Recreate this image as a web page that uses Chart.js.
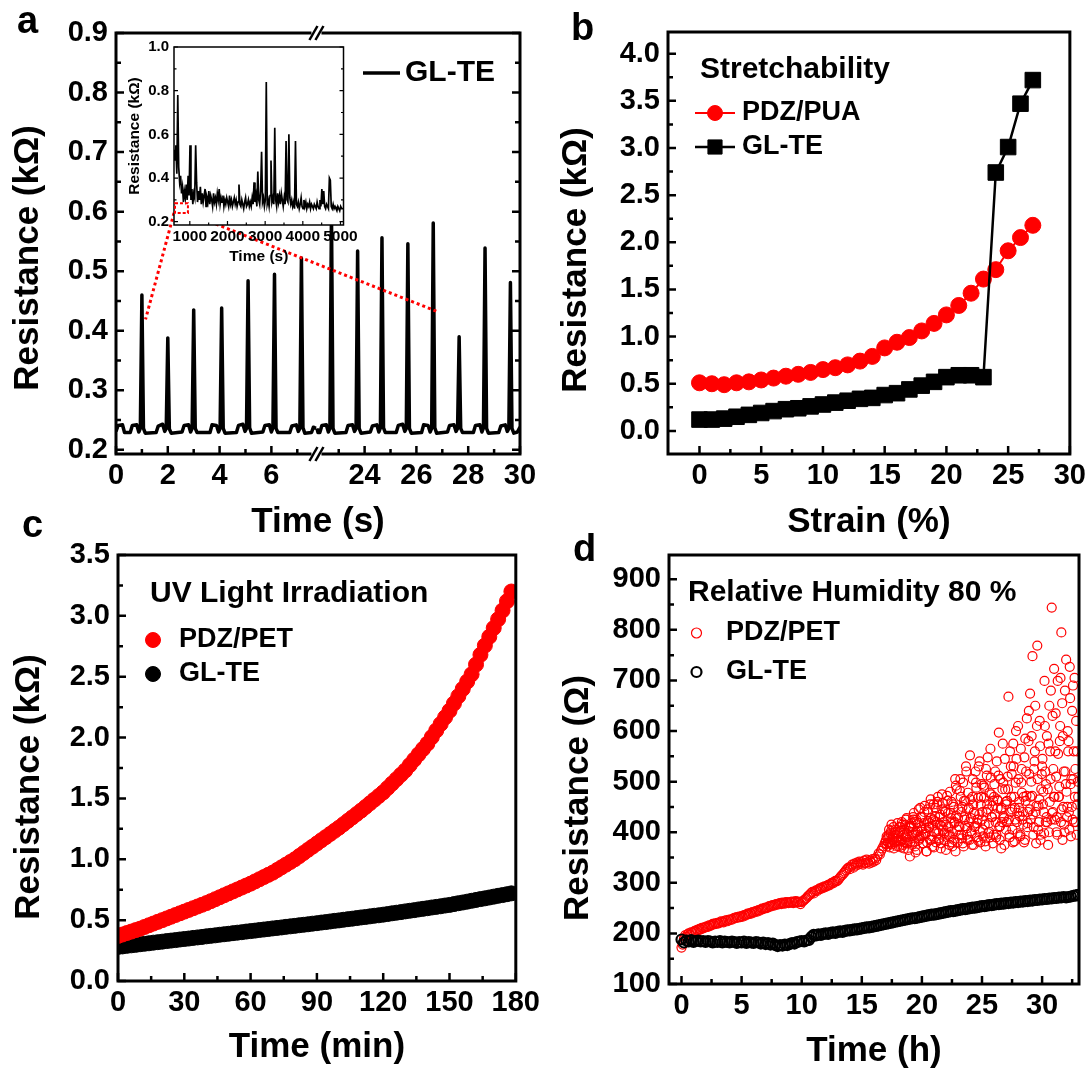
<!DOCTYPE html>
<html>
<head>
<meta charset="utf-8">
<script src="https://cdn.jsdelivr.net/npm/chart.js@4.4.1/dist/chart.umd.min.js"></script>
<style>
html, body { margin: 0; padding: 0; background: #fff; }
#fig { position: relative; width: 1091px; height: 1075px; overflow: hidden; background: #fff; }
canvas { position: absolute; }
</style>
</head>
<body>
<div id="fig">
  <canvas id="ca" width="545" height="550" style="left:0;top:0;z-index:1"></canvas>
  <canvas id="cinset" width="255" height="237" style="z-index:2"></canvas>
  <canvas id="cb" width="546" height="550" style="left:545px;top:0;z-index:1"></canvas>
  <canvas id="cc" width="545" height="575" style="left:0;top:500px;z-index:1"></canvas>
  <canvas id="cd" width="546" height="575" style="left:545px;top:500px;z-index:1"></canvas>
</div>
<script>
// ---- panel a: GL-TE resistance while cycling, x axis broken between ~7.7 s and ~22.1 s
var cycleTimeS = [
  0.00, 0.08, 0.25, 0.33,
  0.55, 0.63, 0.80, 0.88, 0.94, 1.00, 1.06, 1.13,
  1.55, 1.63, 1.80, 1.88, 1.94, 2.00, 2.06, 2.13,
  2.55, 2.63, 2.80, 2.88, 2.94, 3.00, 3.06, 3.13,
  3.63, 3.71, 3.88, 3.96, 4.02, 4.08, 4.14, 4.21,
  4.65, 4.73, 4.90, 4.98, 5.04, 5.10, 5.16, 5.23,
  5.67, 5.75, 5.92, 6.00, 6.06, 6.12, 6.18, 6.25,
  6.71, 6.79, 6.96, 7.04, 7.10, 7.16, 7.22, 7.29,
  7.55, 7.62, 7.72,
  22.16, 22.20,
  22.27, 22.35, 22.52, 22.60, 22.66, 22.72, 22.78, 22.85,
  23.28, 23.36, 23.53, 23.61, 23.67, 23.73, 23.79, 23.86,
  24.22, 24.30, 24.47, 24.55, 24.61, 24.67, 24.73, 24.80,
  25.22, 25.30, 25.47, 25.55, 25.61, 25.67, 25.73, 25.80,
  26.20, 26.28, 26.45, 26.53, 26.59, 26.65, 26.71, 26.78,
  27.20, 27.28, 27.45, 27.53, 27.59, 27.65, 27.71, 27.78,
  28.20, 28.28, 28.45, 28.53, 28.59, 28.65, 28.71, 28.78,
  29.18, 29.26, 29.43, 29.51, 29.57, 29.63, 29.69, 29.76,
  29.90, 30.00
]
var cycleResK = [
  0.231, 0.241, 0.242, 0.229,
  0.229, 0.241, 0.242, 0.230, 0.236, 0.460, 0.236, 0.228,
  0.229, 0.240, 0.243, 0.231, 0.236, 0.388, 0.235, 0.228,
  0.230, 0.241, 0.242, 0.230, 0.236, 0.435, 0.236, 0.229,
  0.229, 0.242, 0.241, 0.230, 0.236, 0.438, 0.236, 0.228,
  0.229, 0.241, 0.243, 0.231, 0.236, 0.484, 0.237, 0.228,
  0.230, 0.241, 0.242, 0.230, 0.237, 0.495, 0.236, 0.229,
  0.229, 0.240, 0.242, 0.231, 0.236, 0.522, 0.237, 0.228,
  0.229, 0.238, 0.236,
  0.236, 0.229,
  0.229, 0.241, 0.242, 0.230, 0.236, 0.600, 0.236, 0.228,
  0.229, 0.241, 0.242, 0.231, 0.236, 0.534, 0.236, 0.228,
  0.230, 0.240, 0.242, 0.230, 0.237, 0.556, 0.237, 0.229,
  0.229, 0.241, 0.243, 0.231, 0.236, 0.546, 0.236, 0.228,
  0.229, 0.242, 0.241, 0.230, 0.236, 0.581, 0.237, 0.228,
  0.230, 0.241, 0.242, 0.231, 0.236, 0.390, 0.236, 0.229,
  0.229, 0.241, 0.242, 0.230, 0.237, 0.539, 0.236, 0.228,
  0.229, 0.240, 0.242, 0.231, 0.236, 0.481, 0.236, 0.228,
  0.230, 0.238
]
var cycleTicksS = [0, 2, 4, 6, 24, 26, 28, 30]
var cycleMinorS = [1, 3, 5, 7, 23, 25, 27, 29]
var cycleTicksK = [0.2, 0.3, 0.4, 0.5, 0.6, 0.7, 0.8, 0.9]
var cycleMinorK = [0.25, 0.35, 0.45, 0.55, 0.65, 0.75, 0.85]
var BREAK_SHIFT = 14.4   // seconds removed by the axis break
var BREAK_AT = 7.74      // axis value where the break marks sit

// inset of panel a: long run, sampled every 25 s from 580 s
var insetStartS = 580
var insetStepS = 25
var insetResK = [
  0.53, 0.48, 0.55, 0.42, 0.78, 0.45, 0.38, 0.41, 0.33, 0.36,
  0.29, 0.34, 0.31, 0.37, 0.30, 0.41, 0.32, 0.55, 0.30, 0.35,
  0.28, 0.33, 0.31, 0.55, 0.38, 0.29, 0.34, 0.30, 0.36, 0.28,
  0.33, 0.29, 0.32, 0.35, 0.27, 0.31, 0.29, 0.34, 0.28, 0.32,
  0.30, 0.27, 0.33, 0.29, 0.31, 0.28, 0.33, 0.30, 0.35, 0.28,
  0.31, 0.29, 0.32, 0.27, 0.30, 0.28, 0.31, 0.29, 0.27, 0.32,
  0.28, 0.30, 0.27, 0.29, 0.31, 0.28, 0.30, 0.27, 0.29, 0.37,
  0.28, 0.27, 0.30, 0.28, 0.26, 0.29, 0.31, 0.27, 0.28, 0.30,
  0.27, 0.29, 0.27, 0.31, 0.28, 0.38, 0.29, 0.32, 0.27, 0.43,
  0.30, 0.28, 0.34, 0.52, 0.29, 0.31, 0.27, 0.30, 0.84, 0.28,
  0.30, 0.27, 0.32, 0.48, 0.29, 0.31, 0.28, 0.63, 0.30, 0.27,
  0.33, 0.29, 0.32, 0.28, 0.33, 0.30, 0.27, 0.31, 0.28, 0.57,
  0.30, 0.29, 0.60, 0.31, 0.28, 0.30, 0.27, 0.29, 0.26, 0.57,
  0.28, 0.27, 0.29, 0.26, 0.28, 0.31, 0.27, 0.26, 0.30, 0.27,
  0.29, 0.26, 0.28, 0.27, 0.29, 0.26, 0.28, 0.27, 0.26, 0.28,
  0.27, 0.26, 0.29, 0.27, 0.26, 0.30, 0.27, 0.35, 0.28, 0.34,
  0.27, 0.26, 0.28, 0.27, 0.26, 0.40, 0.39, 0.27, 0.26, 0.28,
  0.26, 0.27, 0.26, 0.25, 0.27, 0.26, 0.25, 0.27, 0.26, 0.26, 0.26
]
var insetTicksS = [1000, 2000, 3000, 4000, 5000]
var insetMinorS = [1500, 2500, 3500, 4500]
var insetTicksK = [0.2, 0.4, 0.6, 0.8, 1.0]
var insetMinorK = [0.3, 0.5, 0.7, 0.9]
var zoomBoxS = [580, 950]        // red box in the inset (time)
var zoomBoxK = [0.24, 0.285]     // red box in the inset (resistance)
var zoomToS = [1.14, 26.82]      // where the dotted lines land in panel a
var zoomToK = [0.419, 0.432]

// ---- panel b: stretchability
var strainPct = [0, 1, 2, 3, 4, 5, 6, 7, 8, 9, 10, 11, 12, 13, 14, 15, 16, 17, 18, 19, 20, 21, 22, 23, 24, 25, 26, 27]
var puaResK = [0.51, 0.50, 0.49, 0.51, 0.52, 0.54, 0.56, 0.58, 0.60, 0.62, 0.65, 0.67, 0.70, 0.74,
               0.79, 0.88, 0.94, 0.99, 1.06, 1.14, 1.23, 1.33, 1.46, 1.61, 1.71, 1.91, 2.05, 2.18]
var glteStrainK = [0.12, 0.12, 0.13, 0.15, 0.17, 0.19, 0.21, 0.23, 0.24, 0.26, 0.28, 0.30, 0.32, 0.34,
                   0.35, 0.38, 0.40, 0.44, 0.48, 0.52, 0.57, 0.59, 0.59, 0.57, 2.74, 3.01, 3.47, 3.72]
var strainTicks = [0, 5, 10, 15, 20, 25, 30]
var strainMinor = [2.5, 7.5, 12.5, 17.5, 22.5, 27.5]
var strainTicksK = [0, 0.5, 1.0, 1.5, 2.0, 2.5, 3.0, 3.5, 4.0]
var strainMinorK = [0.25, 0.75, 1.25, 1.75, 2.25, 2.75, 3.25, 3.75]

// ---- panel c: UV light, one reading every 2 min
var uvStepMin = 2
var uvPetK = [
  0.370, 0.382, 0.394, 0.406, 0.418, 0.430, 0.444, 0.458, 0.472, 0.486,
  0.500, 0.514, 0.528, 0.542, 0.556, 0.570, 0.584, 0.598, 0.612, 0.626,
  0.640, 0.656, 0.672, 0.688, 0.704, 0.720, 0.736, 0.752, 0.768, 0.784,
  0.800, 0.818, 0.836, 0.854, 0.872, 0.890, 0.912, 0.934, 0.956, 0.978,
  1.000, 1.026, 1.052, 1.078, 1.104, 1.130, 1.156, 1.182, 1.208, 1.234,
  1.260, 1.288, 1.316, 1.344, 1.372, 1.400, 1.430, 1.460, 1.490, 1.520,
  1.550, 1.586, 1.622, 1.658, 1.694, 1.730, 1.774, 1.818, 1.862, 1.906,
  1.950, 2.004, 2.058, 2.112, 2.166, 2.220, 2.280, 2.340, 2.400, 2.460,
  2.520, 2.600, 2.680, 2.756, 2.828, 2.900, 2.972, 3.044, 3.120, 3.200
]
var uvGlteK = [
  0.280, 0.284, 0.289, 0.293, 0.297, 0.302, 0.306, 0.310, 0.315, 0.319,
  0.323, 0.328, 0.332, 0.336, 0.341, 0.345, 0.349, 0.354, 0.358, 0.362,
  0.367, 0.371, 0.375, 0.380, 0.384, 0.388, 0.393, 0.397, 0.401, 0.406,
  0.410, 0.414, 0.419, 0.423, 0.427, 0.432, 0.436, 0.440, 0.445, 0.449,
  0.453, 0.458, 0.462, 0.466, 0.471, 0.475, 0.480, 0.484, 0.489, 0.494,
  0.498, 0.503, 0.508, 0.512, 0.517, 0.522, 0.526, 0.531, 0.536, 0.540,
  0.545, 0.550, 0.556, 0.561, 0.566, 0.572, 0.577, 0.582, 0.588, 0.593,
  0.598, 0.604, 0.609, 0.614, 0.620, 0.625, 0.632, 0.639, 0.645, 0.652,
  0.659, 0.666, 0.673, 0.679, 0.686, 0.693, 0.700, 0.706, 0.713, 0.720
]
var uvTicksMin = [0, 30, 60, 90, 120, 150, 180]
var uvMinorMin = [15, 45, 75, 105, 135, 165]
var uvTicksK = [0, 0.5, 1.0, 1.5, 2.0, 2.5, 3.0, 3.5]
var uvMinorK = [0.25, 0.75, 1.25, 1.75, 2.25, 2.75, 3.25]

// ---- panel d: relative humidity 80 %
var rhPetStepH = 0.1
var rhPetOhm = [
  172, 178, 190, 196, 193, 198, 200, 197, 202, 201,
  203, 205, 204, 207, 206, 209, 208, 211, 210, 212,
  212, 214, 213, 216, 215, 217, 219, 218, 220, 219,
  221, 220, 222, 224, 223, 222, 225, 226, 224, 227,
  226, 228, 227, 229, 231, 230, 232, 231, 233, 232,
  234, 233, 236, 235, 237, 239, 238, 240, 239, 242,
  241, 243, 244, 243, 246, 245, 247, 249, 248, 250,
  251, 250, 252, 254, 253, 255, 256, 255, 257, 258,
  257, 259, 260, 258, 261, 260, 259, 262, 261, 260,
  262, 261, 263, 260, 262, 264, 261, 263, 262, 258,
  262, 264, 266, 268, 270, 273, 275, 277, 280, 282,
  279, 283, 285, 284, 287, 289, 288, 291, 290, 293,
  292, 294, 296, 295, 298, 300, 299, 302, 304, 303,
  305, 308, 311, 314, 316, 319, 322, 325, 328, 330,
  327, 332, 336, 330, 338, 334, 340, 336, 342, 338,
  341, 336, 344, 339, 346, 341, 338, 344, 340, 347,
  342, 348, 345, 352, 358, 356, 363, 368, 372, 378,
  384, 372, 392, 380, 398, 376, 395, 388, 405, 383,
  392, 372, 410, 385, 399, 368, 415, 390, 378, 402,
  352, 410, 395, 425, 381, 400, 365, 418, 392, 430,
  405, 378, 440, 396, 362, 422, 409, 455, 385, 413,
  370, 432, 401, 460, 388, 415, 378, 445, 420, 398,
  365, 472, 410, 392, 438, 380, 455, 418, 362, 485,
  428, 395, 505, 440, 378, 462, 412, 520, 385, 448,
  552, 402, 470, 375, 436, 498, 418, 383, 540, 455,
  425, 392, 488, 372, 512, 445, 401, 565, 430, 378,
  470, 520, 395, 448, 597, 412, 368, 485, 432, 545,
  405, 462, 668, 390, 530, 445, 575, 382, 498, 420,
  610, 460, 395, 525, 440, 380, 585, 472, 418, 640,
  674, 500, 748, 410, 560, 378, 769, 452, 620, 395,
  530, 480, 699, 420, 590, 375, 650, 505, 844, 440,
  723, 560, 400, 699, 470, 610, 795, 385, 520, 680,
  741, 450, 580, 727, 392, 640, 505, 705, 420, 560,
  470
]
// extra PDZ/PET readings in the scattered part, 0.1 h apart from 17.03 h and 17.07 h
var rhPetCloudStartA = 17.03
var rhPetCloudA = [
  376, 388, 395, 370, 402, 385, 410, 380, 395, 372,
  398, 410, 382, 420, 375, 405, 392, 428, 385, 412,
  380, 418, 400, 438, 372, 425, 395, 445, 388, 410,
  430, 395, 452, 408, 380, 440, 418, 465, 392, 425,
  400, 448, 420, 470, 385, 435, 412, 458, 398, 442,
  415, 462, 395, 480, 428, 372, 450, 420, 492, 405,
  445, 410, 470, 388, 498, 430, 462, 395, 478, 420,
  465, 398, 505, 440, 412, 488, 425, 530, 402, 470,
  440, 492, 415, 525, 455, 398, 478, 508, 430, 462,
  495, 420, 540, 462, 410, 505, 448, 575, 428, 485,
  455, 510, 425, 560, 470, 405, 530, 448, 600, 438,
  505, 432, 565, 478, 415, 548, 462, 625, 440, 515,
  470, 590, 435, 525, 650, 452, 505, 420, 570, 485,
  545, 440, 610, 495, 420, 575, 460, 680, 438, 525,
  470, 635, 430, 555, 490, 705, 445, 590, 415, 520,
  480, 600, 440, 665, 505, 425, 560, 470, 620, 455
]
var rhPetCloudStartB = 17.07
var rhPetCloudB = [
  392, 380, 405, 378, 415, 390, 368, 400, 382, 418,
  385, 402, 370, 415, 395, 380, 425, 398, 365, 408,
  412, 375, 430, 395, 360, 420, 402, 385, 448, 392,
  378, 418, 398, 362, 445, 410, 385, 428, 372, 455,
  422, 380, 455, 398, 430, 368, 475, 405, 385, 440,
  395, 438, 375, 418, 460, 398, 385, 505, 432, 380,
  412, 482, 395, 450, 372, 425, 530, 408, 445, 385,
  428, 375, 455, 410, 520, 390, 468, 435, 380, 495,
  405, 468, 382, 440, 548, 418, 390, 475, 452, 395,
  435, 390, 465, 512, 385, 445, 420, 498, 375, 460,
  420, 485, 395, 440, 515, 380, 470, 425, 545, 398,
  448, 392, 498, 425, 470, 385, 520, 410, 580, 445,
  425, 472, 395, 540, 440, 610, 405, 465, 385, 515,
  455, 398, 520, 430, 485, 400, 560, 425, 630, 470,
  425, 510, 395, 470, 580, 420, 655, 450, 400, 495,
  430, 560, 405, 495, 450, 690, 420, 525, 395, 500
]
var rhGlteStepH = 0.2
var rhGlteOhm = [
  188, 182, 186, 184, 187, 183, 185, 186, 184, 185,
  183, 185, 184, 182, 184, 183, 185, 182, 184, 183,
  182, 184, 183, 181, 183, 182, 184, 181, 183, 182,
  181, 183, 182, 180, 182, 179, 181, 178, 180, 177,
  175, 177, 176, 178, 177, 179, 181, 180, 183, 184,
  185, 184, 186, 187, 193, 197, 196, 198, 197, 199,
  200, 199, 201, 202, 201, 203, 204, 203, 205, 206,
  206, 207, 208, 208, 209, 210, 211, 212, 212, 213,
  214, 215, 216, 217, 218, 219, 220, 221, 222, 223,
  224, 225, 226, 227, 228, 229, 230, 230, 231, 232,
  233, 234, 235, 236, 237, 237, 238, 239, 240, 241,
  242, 243, 244, 244, 245, 246, 247, 248, 248, 249,
  250, 251, 251, 252, 253, 254, 254, 255, 256, 256,
  257, 258, 258, 259, 259, 260, 260, 261, 261, 262,
  262, 263, 263, 264, 264, 265, 265, 266, 266, 267,
  267, 268, 268, 269, 269, 270, 270, 271, 271, 272,
  271, 272, 273, 274, 275, 276
]
var rhTicksH = [0, 5, 10, 15, 20, 25, 30]
var rhMinorH = [2.5, 7.5, 12.5, 17.5, 22.5, 27.5, 32.5]
var rhTicksOhm = [100, 200, 300, 400, 500, 600, 700, 800, 900]
var rhMinorOhm = [150, 250, 350, 450, 550, 650, 750, 850]

// ------------------------------------------------------------------
var FONT = "'Liberation Sans', Arial, Helvetica, sans-serif"
var RED = '#ff0000'
var INSET_LEFT = 105, INSET_TOP = 33

Chart.defaults.font.family = FONT
Chart.defaults.font.weight = 'bold'
Chart.defaults.color = '#000'

function toAxisA(t) { return t > 15 ? t - BREAK_SHIFT : t }

function linAxis(c) {
  return {
    type: 'linear', position: c.pos, min: c.min, max: c.max,
    grid: { display: false, drawTicks: false },
    border: { display: false },
    ticks: {
      autoSkip: false, maxRotation: 0, minRotation: 0, padding: c.pad,
      font: { size: c.fs, weight: 'bold' }, color: '#000',
      callback: c.fmt
    },
    title: c.title ? {
      display: true, text: c.title, color: '#000',
      font: { size: c.tfs, weight: 'bold' }, padding: c.tpad
    } : { display: false },
    afterBuildTicks: function(s) { s.ticks = c.ticks.map(function(v) { return { value: v } }) },
    afterFit: function(s) { if (s.isHorizontal()) s.height = c.size; else s.width = c.size }
  }
}

// box frame with inward ticks (major from the scale, minor from lists)
function makeFrame(o) {
  return {
    id: 'frame',
    afterDatasetsDraw: function(chart) {
      var ctx = chart.ctx, a = chart.chartArea
      var sx = chart.scales.x, sy = chart.scales.y
      ctx.save()
      ctx.strokeStyle = '#000'
      ctx.beginPath()
      var xs = sx.ticks.map(function(t) { return [t.value, o.major] })
        .concat((o.xMinor || []).map(function(v) { return [v, o.minor] }))
      var ys = sy.ticks.map(function(t) { return [t.value, o.major] })
        .concat((o.yMinor || []).map(function(v) { return [v, o.minor] }))
      xs.forEach(function(p) {
        var px = sx.getPixelForValue(p[0])
        if (px < a.left - 0.5 || px > a.right + 0.5) return
        ctx.moveTo(px, a.bottom); ctx.lineTo(px, a.bottom - p[1])
      })
      ys.forEach(function(p) {
        var py = sy.getPixelForValue(p[0])
        if (py < a.top - 0.5 || py > a.bottom + 0.5) return
        ctx.moveTo(a.left, py); ctx.lineTo(a.left + p[1], py)
        if (o.mirrorY) { ctx.moveTo(a.right, py); ctx.lineTo(a.right - p[1], py) }
      })
      ctx.lineWidth = o.tw
      ctx.stroke()
      ctx.lineWidth = o.lw
      ctx.strokeRect(a.left, a.top, a.right - a.left, a.bottom - a.top)
      ctx.restore()
    }
  }
}

function drawMarker(ctx, ds, x, y, r) {
  ctx.beginPath()
  if (ds.pointStyle === 'rect') {
    var h = r * Math.SQRT1_2
    ctx.rect(x - h, y - h, 2 * h, 2 * h)
  } else {
    ctx.arc(x, y, r, 0, Math.PI * 2)
  }
  ctx.fillStyle = ds.pointBackgroundColor || ds.backgroundColor
  ctx.fill()
  ctx.lineWidth = ds.pointBorderWidth || 1
  ctx.strokeStyle = ds.pointBorderColor || ds.borderColor
  ctx.stroke()
}

// panel letter, rotated y title and the in-plot legend
function makeDecor(cfg) {
  return {
    id: 'decor',
    afterDraw: function(chart) {
      var ctx = chart.ctx
      ctx.save()
      ctx.fillStyle = '#000'
      ctx.textAlign = 'left'
      ctx.textBaseline = 'alphabetic'
      ctx.font = 'bold 38px ' + FONT
      ctx.fillText(cfg.letter[0], cfg.letter[1], cfg.letter[2])

      ctx.save()
      ctx.translate(cfg.yTitle[1], cfg.yTitle[2])
      ctx.rotate(-Math.PI / 2)
      ctx.font = 'bold 35px ' + FONT
      ctx.textAlign = 'center'
      ctx.textBaseline = 'middle'
      ctx.fillText(cfg.yTitle[0], 0, 0)
      ctx.restore()

      ctx.textBaseline = 'middle'
      if (cfg.legendTitle) {
        ctx.font = 'bold 30px ' + FONT
        ctx.fillText(cfg.legendTitle[0], cfg.legendTitle[1], cfg.legendTitle[2])
      }
      cfg.items.forEach(function(it) {
        var ds = chart.data.datasets[it.ds]
        if (it.line) {
          ctx.strokeStyle = ds.borderColor
          ctx.lineWidth = ds.borderWidth
          ctx.beginPath(); ctx.moveTo(it.line[0], it.y); ctx.lineTo(it.line[1], it.y); ctx.stroke()
        }
        if (it.mx !== undefined) drawMarker(ctx, ds, it.mx, it.y, it.r || ds.pointRadius)
        ctx.fillStyle = '#000'
        ctx.font = 'bold ' + it.fs + 'px ' + FONT
        ctx.fillText(ds.label, it.tx, it.y)
      })
      ctx.restore()
    }
  }
}

var baseOpts = function(pad) {
  return {
    responsive: false, animation: false, events: [],
    layout: { padding: pad, autoPadding: false },
    plugins: { legend: { display: false }, tooltip: { enabled: false } }
  }
}

// ---------------- inset (drawn first so panel a can read its scales)
var insetCanvas = document.getElementById('cinset')
insetCanvas.style.left = INSET_LEFT + 'px'
insetCanvas.style.top = INSET_TOP + 'px'

var insetOpts = baseOpts({ left: 0, top: 12, right: 15, bottom: 0 })
insetOpts.scales = {
  x: linAxis({ pos: 'bottom', min: 580, max: 5080, ticks: insetTicksS, pad: 2, fs: 15.5,
               fmt: function(v) { return String(v) }, title: 'Time (s)', tfs: 15.5,
               tpad: { top: 0, bottom: 4 }, size: 45 }),
  y: linAxis({ pos: 'left', min: 0.185, max: 1.0, ticks: insetTicksK, pad: 5, fs: 15,
               fmt: function(v) { return v.toFixed(1) }, title: 'Resistance (k\u03A9)', tfs: 15.5,
               tpad: { top: 20, bottom: 0 }, size: 69 })
}
var insetChart = new Chart(insetCanvas, {
  type: 'scatter',
  data: {
    datasets: [{
      label: 'GL-TE',
      data: insetResK.map(function(v, i) { return { x: insetStartS + i * insetStepS, y: v } }),
      showLine: true, borderColor: '#000', borderWidth: 1.7, pointRadius: 0
    }]
  },
  options: insetOpts,
  plugins: [
    { id: 'insetBg', beforeDatasetsDraw: function(chart) {
        var a = chart.chartArea
        chart.ctx.save(); chart.ctx.fillStyle = '#fff'
        chart.ctx.fillRect(a.left, a.top, a.right - a.left, a.bottom - a.top)
        chart.ctx.restore()
    } },
    makeFrame({ lw: 1.5, tw: 1.2, major: 4, minor: 2.5, mirrorY: true, xMinor: insetMinorS, yMinor: insetMinorK }),
    { id: 'zoomBox', afterDraw: function(chart) {
        var ctx = chart.ctx, sx = chart.scales.x, sy = chart.scales.y
        var x0 = sx.getPixelForValue(zoomBoxS[0]) + 1, x1 = sx.getPixelForValue(zoomBoxS[1])
        var y0 = sy.getPixelForValue(zoomBoxK[1]), y1 = sy.getPixelForValue(zoomBoxK[0])
        ctx.save(); ctx.strokeStyle = RED; ctx.lineWidth = 2; ctx.setLineDash([3, 2])
        ctx.strokeRect(x0, y0, x1 - x0, y1 - y0)
        ctx.restore()
    } }
  ]
})

// ---------------- panel a
var cyclePoints = []
cycleTimeS.forEach(function(t, i) {
  if (i > 0 && cycleTimeS[i - 1] < 15 && t > 15) cyclePoints.push({ x: BREAK_AT, y: null })
  cyclePoints.push({ x: toAxisA(t), y: cycleResK[i] })
})

var aOpts = baseOpts({ left: 0, top: 33, right: 25, bottom: 0 })
aOpts.scales = {
  x: linAxis({ pos: 'bottom', min: 0, max: 15.6, ticks: cycleTicksS.map(toAxisA), pad: 5, fs: 29,
               fmt: function(v, i) { return String(cycleTicksS[i]) }, title: 'Time (s)', tfs: 35,
               tpad: { top: 0, bottom: 7 }, size: 96 }),
  y: linAxis({ pos: 'left', min: 0.193, max: 0.9, ticks: cycleTicksK, pad: 8, fs: 29,
               fmt: function(v) { return v.toFixed(1) }, size: 116 })
}
new Chart(document.getElementById('ca'), {
  type: 'scatter',
  data: {
    datasets: [{
      label: 'GL-TE', data: cyclePoints, showLine: true, spanGaps: false,
      borderColor: '#000', borderWidth: 3.5, borderJoinStyle: 'round', pointRadius: 0
    }]
  },
  options: aOpts,
  plugins: [
    makeFrame({ lw: 3, tw: 2.5, major: 8, minor: 5, mirrorY: true,
                xMinor: cycleMinorS.map(toAxisA), yMinor: cycleMinorK }),
    { id: 'axisBreak', afterDraw: function(chart) {
        var ctx = chart.ctx, a = chart.chartArea
        var px = chart.scales.x.getPixelForValue(BREAK_AT)
        ctx.save()
        ;[a.top, a.bottom].forEach(function(yy) {
          ctx.fillStyle = '#fff'
          ctx.fillRect(px - 5, yy - 3, 10, 6)
          ctx.strokeStyle = '#000'; ctx.lineWidth = 2.5
          ;[-3, 3].forEach(function(off) {
            ctx.beginPath(); ctx.moveTo(px + off - 4, yy + 7); ctx.lineTo(px + off + 4, yy - 7); ctx.stroke()
          })
        })
        ctx.restore()
    } },
    { id: 'zoomLines', afterDatasetsDraw: function(chart) {
        var ix = insetChart.scales.x, iy = insetChart.scales.y
        var ctx = chart.ctx
        ctx.save(); ctx.strokeStyle = RED; ctx.lineWidth = 3; ctx.setLineDash([3, 3])
        zoomToS.forEach(function(t, k) {
          var x0 = ix.getPixelForValue(zoomBoxS[k]) + INSET_LEFT
          var y0 = iy.getPixelForValue(zoomBoxK[0]) + INSET_TOP
          var x1 = chart.scales.x.getPixelForValue(toAxisA(t))
          var y1 = chart.scales.y.getPixelForValue(zoomToK[k])
          ctx.beginPath(); ctx.moveTo(x0, y0); ctx.lineTo(x1, y1); ctx.stroke()
        })
        ctx.restore()
    } },
    makeDecor({ letter: ['a', 17, 33], yTitle: ['Resistance (k\u03A9)', 28.5, 258],
                items: [{ ds: 0, line: [363, 400], y: 73, tx: 405, fs: 30 }] })
  ]
})

// ---------------- panel b
var bOpts = baseOpts({ left: 0, top: 32, right: 21, bottom: 0 })
bOpts.scales = {
  x: linAxis({ pos: 'bottom', min: -2.55, max: 30, ticks: strainTicks, pad: 5, fs: 29,
               fmt: function(v) { return String(v) }, title: 'Strain (%)', tfs: 35,
               tpad: { top: 0, bottom: 7 }, size: 96 }),
  y: linAxis({ pos: 'left', min: -0.245, max: 4.23, ticks: strainTicksK, pad: 8, fs: 29,
               fmt: function(v) { return v.toFixed(1) }, size: 123 })
}
new Chart(document.getElementById('cb'), {
  type: 'scatter',
  data: {
    datasets: [
      { label: 'PDZ/PUA', order: 1,
        data: strainPct.map(function(s, i) { return { x: s, y: puaResK[i] } }),
        showLine: true, borderColor: RED, backgroundColor: RED, borderWidth: 2,
        pointStyle: 'circle', pointRadius: 8, pointBorderWidth: 1 },
      { label: 'GL-TE', order: 0,
        data: strainPct.map(function(s, i) { return { x: s, y: glteStrainK[i] } }),
        showLine: true, borderColor: '#000', backgroundColor: '#000', borderWidth: 2.5,
        pointStyle: 'rect', pointRadius: 11, pointBorderWidth: 1 }
    ]
  },
  options: bOpts,
  plugins: [
    makeFrame({ lw: 3, tw: 2.5, major: 8, minor: 5, xMinor: strainMinor, yMinor: strainMinorK }),
    makeDecor({ letter: ['b', 26, 40], yTitle: ['Resistance (k\u03A9)', 31, 260],
                legendTitle: ['Stretchability', 155, 70],
                items: [{ ds: 0, line: [150, 190], mx: 170, r: 7.5, y: 113, tx: 197, fs: 27 },
                        { ds: 1, line: [150, 190], mx: 170, r: 10, y: 147, tx: 197, fs: 27 }] })
  ]
})

// ---------------- panel c
var cOpts = baseOpts({ left: 0, top: 55, right: 25, bottom: 0 })
cOpts.scales = {
  x: linAxis({ pos: 'bottom', min: 0, max: 180, ticks: uvTicksMin, pad: 5, fs: 29,
               fmt: function(v) { return String(v) }, title: 'Time (min)', tfs: 35,
               tpad: { top: 0, bottom: 7 }, size: 94 }),
  y: linAxis({ pos: 'left', min: 0, max: 3.5, ticks: uvTicksK, pad: 8, fs: 29,
               fmt: function(v) { return v.toFixed(1) }, size: 118 })
}
new Chart(document.getElementById('cc'), {
  type: 'scatter',
  data: {
    datasets: [
      { label: 'PDZ/PET',
        data: uvPetK.map(function(v, i) { return { x: i * uvStepMin, y: v } }),
        borderColor: RED, backgroundColor: RED, pointRadius: 7.5, pointBorderWidth: 1 },
      { label: 'GL-TE',
        data: uvGlteK.map(function(v, i) { return { x: i * uvStepMin, y: v } }),
        borderColor: '#000', backgroundColor: '#000', pointRadius: 7.5, pointBorderWidth: 1 }
    ]
  },
  options: cOpts,
  plugins: [
    makeFrame({ lw: 3, tw: 2.5, major: 8, minor: 5, xMinor: uvMinorMin, yMinor: uvMinorK }),
    makeDecor({ letter: ['c', 22, 37], yTitle: ['Resistance (k\u03A9)', 29.5, 287],
                legendTitle: ['UV Light Irradiation', 150, 94],
                items: [{ ds: 0, mx: 153, r: 7.5, y: 140, tx: 179, fs: 27 },
                        { ds: 1, mx: 153, r: 7.5, y: 174, tx: 179, fs: 27 }] })
  ]
})

// ---------------- panel d
var petPoints = rhPetOhm.map(function(v, i) { return { x: i * rhPetStepH, y: v } })
  .concat(rhPetCloudA.map(function(v, i) { return { x: rhPetCloudStartA + i * rhPetStepH, y: v } }))
  .concat(rhPetCloudB.map(function(v, i) { return { x: rhPetCloudStartB + i * rhPetStepH, y: v } }))

var dOpts = baseOpts({ left: 0, top: 55, right: 12, bottom: 0 })
dOpts.scales = {
  x: linAxis({ pos: 'bottom', min: -1.04, max: 33.07, ticks: rhTicksH, pad: 5, fs: 29,
               fmt: function(v) { return String(v) }, title: 'Time (h)', tfs: 35,
               tpad: { top: 0, bottom: 3 }, size: 91 }),
  y: linAxis({ pos: 'left', min: 100, max: 948, ticks: rhTicksOhm, pad: 8, fs: 29,
               fmt: function(v) { return String(v) }, size: 124 })
}
new Chart(document.getElementById('cd'), {
  type: 'scatter',
  data: {
    datasets: [
      { label: 'PDZ/PET', order: 1, data: petPoints,
        borderColor: RED, backgroundColor: 'rgba(0,0,0,0)', pointRadius: 4.5, pointBorderWidth: 1.2 },
      { label: 'GL-TE', order: 0,
        data: rhGlteOhm.map(function(v, i) { return { x: i * rhGlteStepH, y: v } }),
        borderColor: '#000', backgroundColor: 'rgba(0,0,0,0)', pointRadius: 5, pointBorderWidth: 2.2 }
    ]
  },
  options: dOpts,
  plugins: [
    makeFrame({ lw: 3, tw: 2.5, major: 8, minor: 5, xMinor: rhMinorH, yMinor: rhMinorOhm }),
    makeDecor({ letter: ['d', 28, 61], yTitle: ['Resistance (\u03A9)', 33, 298],
                legendTitle: ['Relative Humidity 80 %', 143, 93],
                items: [{ ds: 0, mx: 151.5, r: 5, y: 133, tx: 181, fs: 27 },
                        { ds: 1, mx: 151.5, r: 5, y: 172, tx: 181, fs: 27 }] })
  ]
})
</script>
</body>
</html>
